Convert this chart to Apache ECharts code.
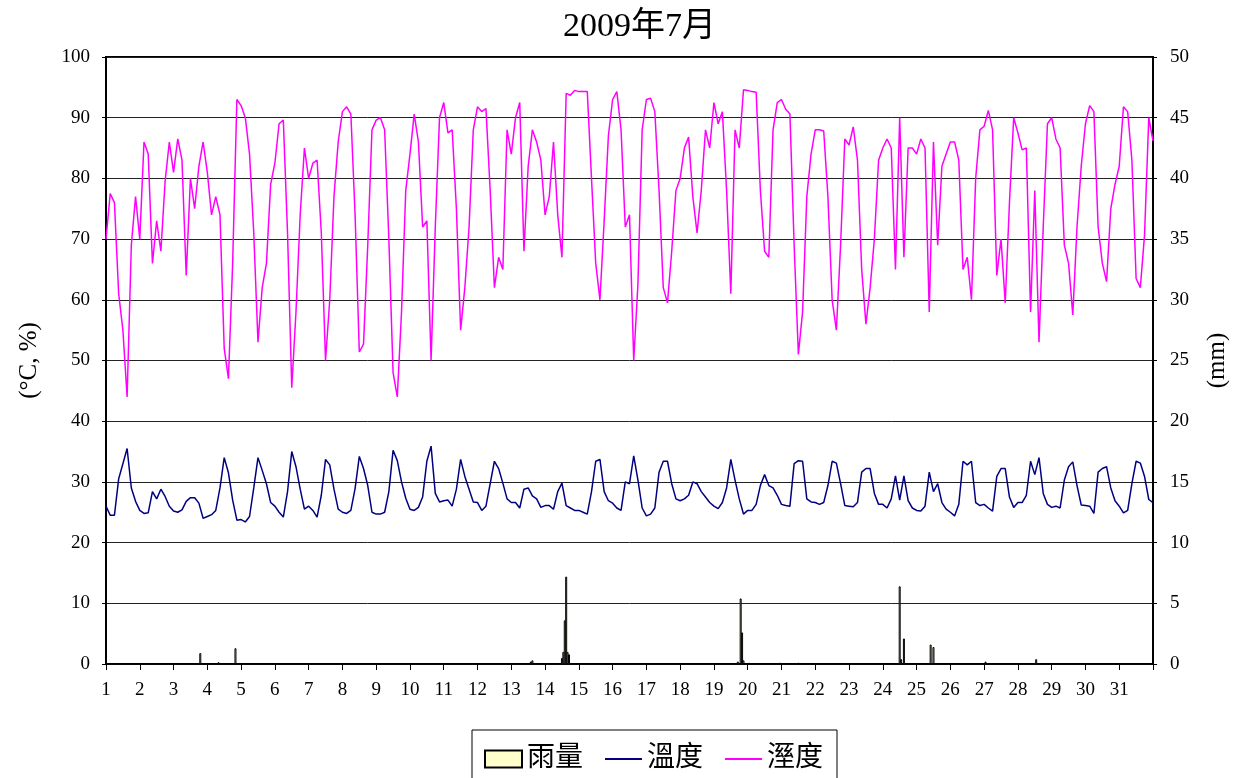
<!DOCTYPE html>
<html>
<head>
  <meta charset="utf-8">
  <title>2009年7月</title>
  <script src="https://cdn.jsdelivr.net/npm/echarts@6/dist/echarts.min.js"></script>
  <style>html,body{margin:0;padding:0;background:#fff;}</style>
</head>
<body>
  <div id="chart" style="width:1242px;height:778px;"></div>
  <script>
    // 3-hourly readings (00,03,...,21h) for July 1..31, plus Aug 1 00h
    const STEPS_PER_DAY = 8;
    const humidity = [
      70, 77.5, 76, 61, 55, 44, 69, 77,
      70, 86, 84, 66, 73, 68, 79.5, 86,
      81, 86.5, 83, 64, 80, 75, 82, 86,
      81, 74, 77, 74, 52, 47, 66, 93,
      92, 90, 84, 71, 53, 62, 66, 79,
      82.5, 89, 89.6, 71, 45.5, 58, 74, 85,
      80, 82.5, 83, 71, 50, 60, 77, 86,
      91, 91.8, 90.6, 74, 51.4, 52.7, 69, 88,
      89.6, 90, 88, 70, 48, 44, 58, 78,
      84, 90.6, 86, 72, 73, 50, 72, 90,
      92.5, 87.5, 88, 75, 55, 62, 72, 88,
      91.8, 91, 91.5, 78, 62, 67, 65, 88,
      84, 90, 92.5, 68, 82, 88, 86, 83,
      74, 77, 86, 74, 67, 94, 93.7, 94.5,
      94.3, 94.3, 94.3, 80, 66, 60, 73, 87,
      93, 94.3, 88, 72, 74, 50, 62.6, 88,
      93, 93.2, 91, 78, 62, 59.5, 68, 78,
      80, 85, 86.8, 77, 71, 78, 88, 85,
      92.5, 89, 91, 78, 61, 88, 85, 94.6,
      94.5, 94.3, 94.2, 78, 68, 67, 88, 92.5,
      93, 91.4, 90.6, 69, 51, 58, 77, 84,
      88, 88, 87.8, 77, 60, 55, 69, 86.5,
      85.5, 88.5, 83, 65, 56, 62, 70, 83,
      85, 86.5, 85, 65, 90, 67, 85, 85,
      84, 86.5, 85, 58, 86, 69, 82, 84,
      86, 86, 83, 65, 67, 60, 80, 88,
      88.6, 91.2, 88, 64, 70, 59.5, 76, 90,
      87.5, 84.7, 85, 58, 78, 53, 72, 89,
      90, 86.5, 85, 69, 66, 57.5, 72, 82,
      89, 92, 91, 72, 66, 63, 75, 79,
      82, 91.8, 91, 83, 63.5, 62, 70.7, 90,
      86.2
    ];
    const temperature = [
      26, 24.5, 24.5, 30.5, 33, 35.5, 29, 26.8,
      25.3, 24.8, 24.9, 28.4, 27.2, 28.8, 27.6, 26,
      25.2, 25, 25.4, 26.8, 27.4, 27.4, 26.5, 24,
      24.3, 24.6, 25.3, 29, 34, 31.5, 27, 23.7,
      23.8, 23.4, 24.3, 29, 34, 31.9, 29.7, 26.6,
      26, 25, 24.2, 28.4, 35, 32.5, 28.8, 25.5,
      26, 25.3, 24.2, 27.8, 33.7, 32.8, 28.8, 25.5,
      25, 24.8, 25.3, 28.9, 34.2, 32.2, 29.4, 25,
      24.7, 24.7, 25, 28.4, 35.2, 33.5, 30, 27.3,
      25.5, 25.3, 25.8, 27.5, 33.4, 35.9, 28.1, 26.7,
      26.9, 27, 26, 28.8, 33.7, 30.9, 28.8, 26.7,
      26.6, 25.3, 26, 29.7, 33.4, 32.2, 29.8, 27.2,
      26.6, 26.6, 25.7, 28.8, 29, 27.7, 27.2, 25.8,
      26.1, 26.1, 25.5, 28.4, 29.8, 26.1, 25.7, 25.3,
      25.3, 25, 24.7, 28.4, 33.4, 33.7, 28.4, 26.9,
      26.5, 25.7, 25.3, 30, 29.7, 34.3, 30.3, 25.7,
      24.4, 24.7, 25.7, 31.6, 33.4, 33.4, 29.7, 27.2,
      26.9, 27.2, 27.8, 30, 29.7, 28.4, 27.5, 26.6,
      26, 25.6, 26.6, 29, 33.7, 30.3, 27.2, 24.7,
      25.3, 25.3, 26.3, 29.4, 31.2, 29.4, 29, 27.8,
      26.3, 26.1, 26, 33, 33.5, 33.4, 27.2, 26.7,
      26.6, 26.3, 26.6, 29.4, 33.4, 33.1, 29.7, 26.1,
      26, 25.9, 26.6, 31.6, 32.2, 32.2, 28.1, 26.3,
      26.3, 25.7, 27.2, 31, 27, 31, 26.9, 25.7,
      25.3, 25.2, 26, 31.6, 28.4, 29.7, 26.6, 25.5,
      25, 24.4, 26.3, 33.4, 32.8, 33.4, 26.6, 26.1,
      26.3, 25.7, 25.2, 30.9, 32.2, 32.2, 27.5, 25.8,
      26.6, 26.6, 27.8, 33.4, 31.2, 34, 28.1, 26.3,
      25.8, 26, 25.7, 30.3, 32.5, 33.3, 29.4, 26.2,
      26.1, 26, 24.8, 31.6, 32.2, 32.5, 29, 26.9,
      26, 24.9, 25.3, 29.7, 33.4, 33.1, 30.9, 27.1,
      26.6
    ];
    // hourly rain (mm), only the hours with rain
    const rainDay  = [3, 4, 4, 13, 13, 13, 14, 14, 14, 14, 14, 14, 19, 19, 19, 19, 20, 20, 21, 24, 24, 24, 25, 25, 27, 28];
    const rainHour = [19, 8, 20, 13, 14, 15, 12, 13, 14, 15, 16, 17, 17, 19, 20, 21, 1, 23, 12, 12, 13, 15, 10, 12, 1, 13];
    const rainMm   = [0.9, 0.15, 1.3, 0.1, 0.2, 0.3, 0.5, 1.0, 3.6, 7.2, 1.0, 0.8, 0.2, 5.4, 2.6, 0.3, 0.1, 0.1, 0.1, 6.4, 0.4, 2.1, 1.6, 1.4, 0.2, 0.4];

    const FONT = "'Liberation Serif', 'Noto Sans CJK TC', serif";
    const LINE_ICON = 'path://M0,0 L37,0 L37,2 L0,2 Z';

    const humData = humidity.map((v, i) => [1 + i / STEPS_PER_DAY, v]);
    const tempData = temperature.map((v, i) => [1 + i / STEPS_PER_DAY, v]);
    const rainData = rainMm.map((v, i) => [rainDay[i] + rainHour[i] / 24, v]);

    let myChart = echarts.init(document.getElementById('chart'));
    let option = {
      animation: false,
      backgroundColor: '#fff',
      title: {
        text: '2009年7月',
        left: 558,
        top: 5,
        textStyle: { fontFamily: FONT, fontSize: 34, fontWeight: 'normal', color: '#000' }
      },
      legend: {
        left: 472,
        top: 730,
        padding: [14, 14, 20, 12],
        itemGap: 22,
        itemWidth: 37,
        itemHeight: 17,
        borderColor: '#000',
        borderWidth: 1,
        symbolKeepAspect: true,
        textStyle: { fontFamily: FONT, fontSize: 28, color: '#000', lineHeight: 30 },
        data: [
          { name: '雨量', icon: 'rect' },
          { name: '溫度', icon: LINE_ICON },
          { name: '溼度', icon: LINE_ICON }
        ]
      },
      grid: {
        left: 106,
        right: 89,
        top: 57,
        bottom: 114,
        show: true,
        borderColor: '#000',
        borderWidth: 2,
        backgroundColor: 'transparent'
      },
      xAxis: {
        type: 'value',
        min: 1,
        max: 32,
        interval: 1,
        axisLine: { show: true, lineStyle: { color: '#000', width: 1.5 } },
        axisTick: { show: true, length: 6, lineStyle: { color: '#000' } },
        axisLabel: {
          margin: 17,
          fontFamily: FONT,
          fontSize: 19,
          color: '#000',
          formatter: v => (v >= 32 ? '' : String(v))
        },
        splitLine: { show: false }
      },
      yAxis: [
        {
          type: 'value',
          min: 0,
          max: 100,
          interval: 10,
          name: '(°C, %)',
          nameLocation: 'middle',
          nameRotate: 90,
          nameGap: 64,
          nameTextStyle: { fontFamily: FONT, fontSize: 25, color: '#000' },
          axisLine: { show: true, lineStyle: { color: '#000', width: 2 } },
          axisTick: { show: true, length: 4, lineStyle: { color: '#000' } },
          axisLabel: { margin: 16, fontFamily: FONT, fontSize: 19, color: '#000' },
          splitLine: { show: true, lineStyle: { color: '#222', width: 1 } }
        },
        {
          type: 'value',
          min: 0,
          max: 50,
          interval: 5,
          name: '(mm)',
          nameLocation: 'middle',
          nameRotate: 90,
          nameGap: 52,
          nameTextStyle: { fontFamily: FONT, fontSize: 25, color: '#000' },
          axisLine: { show: true, lineStyle: { color: '#000', width: 2 } },
          axisTick: { show: true, length: 4, lineStyle: { color: '#000' } },
          axisLabel: { margin: 17, fontFamily: FONT, fontSize: 19, color: '#000' },
          splitLine: { show: false }
        }
      ],
      series: [
        {
          name: '雨量',
          type: 'bar',
          yAxisIndex: 1,
          barWidth: 2,
          itemStyle: { color: '#ffffcc', borderColor: '#000', borderWidth: 1 },
          data: rainData
        },
        {
          name: '溫度',
          type: 'line',
          symbol: 'none',
          showSymbol: false,
          lineStyle: { color: '#000080', width: 1.5 },
          itemStyle: { color: '#000080' },
          data: tempData
        },
        {
          name: '溼度',
          type: 'line',
          symbol: 'none',
          showSymbol: false,
          lineStyle: { color: '#ff00ff', width: 1.5 },
          itemStyle: { color: '#ff00ff' },
          data: humData
        }
      ]
    };
    myChart.setOption(option);
  </script>
</body>
</html>
